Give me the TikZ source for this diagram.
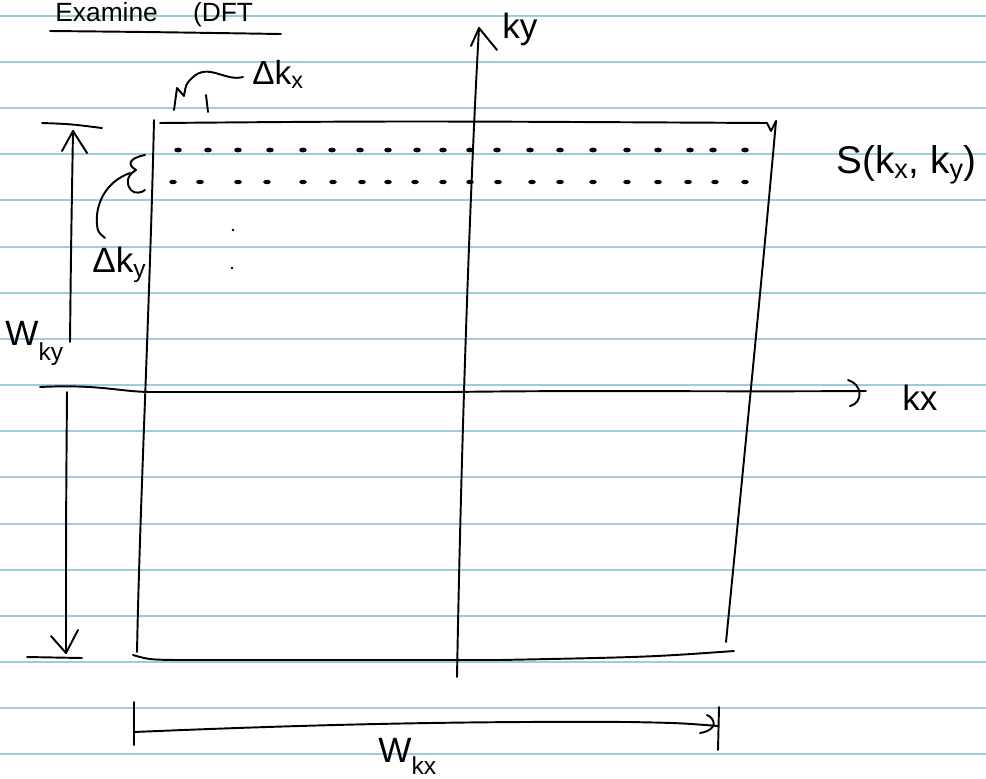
\documentclass[tikz,border=0pt]{standalone}
\usepackage{fontspec}
\setmainfont{Liberation Sans}
\definecolor{rulecol}{RGB}{158,204,220}
\begin{document}
\begin{tikzpicture}[x=0.02cm,y=-0.02cm,
  ink/.style={line width=1.1pt, line cap=round, line join=round},
  ruleline/.style={draw=rulecol, line width=1.1pt},
  lbl/.style={inner sep=0pt, anchor=base west},
  dotmark/.style={fill=black}]
\useasboundingbox (0,0) rectangle (986,778);
\clip (0,0) rectangle (986,778);
\fill[white] (0,0) rectangle (986,778);
% ruled paper
\foreach \yy in {16,62,108,154,200,247,293,339,385,431,477,524,570,616,662,708,754}
  \draw[ruleline] (0,\yy) -- (986,\yy);

% title
\node[lbl, font=\fontsize{15}{17}\selectfont] (title) at (55,21) {Examine\hspace{20pt}(DFT};
\coordinate (ulA) at (50,31); \coordinate (ulB) at (281,34);
\draw[ink] (ulA) .. controls (150,32) .. (ulB);

% Delta k_x label and squiggle
\node[lbl, font=\fontsize{19}{22}\selectfont] (dkx) at (252,84) {Δk\textsubscript{x}};
\coordinate (sqA) at (174,110); \coordinate (sqB) at (243,77);
\draw[ink] (sqA) -- (177,88) .. controls (181,92) .. (184,96) .. controls (186,84) .. (192,78)
  .. controls (208,62) and (225,82) .. (sqB);
\draw[ink] (206,95) -- (208,112);

% k_y axis
\coordinate (kyb) at (457,677); \coordinate (kyt) at (479,28);
\draw[ink] (kyb) .. controls (462,400) and (472,150) .. (kyt);
\draw[ink] (471,46) -- (kyt) -- (497,50);
\node[lbl, font=\fontsize{20}{22}\selectfont] (kylab) at (502,38) {ky};

% k_x axis
\coordinate (kxl) at (40,387); \coordinate (kxr) at (866,391);
\draw[ink] (kxl) .. controls (100,384) and (120,392) .. (152,392) -- (450,392)
  .. controls (600,390) and (700,392) .. (kxr);
\draw[ink] (848,380) .. controls (862,384) and (864,402) .. (850,406);
\node[lbl, font=\fontsize{20}{22}\selectfont] (kxlab) at (902,410) {kx};

% sampling rectangle
\coordinate (rTL) at (154,120); \coordinate (rBL) at (137,652);
\coordinate (tA) at (160,123); \coordinate (tB) at (767,123);
\coordinate (rTR) at (776,121); \coordinate (rBR) at (726,642);
\coordinate (bA) at (133,655); \coordinate (bB) at (734,651);
\draw[ink] (rTL) .. controls (150,300) and (140,500) .. (rBL);
\draw[ink] (tA) .. controls (400,121) .. (tB) -- (771,131) -- (rTR);
\draw[ink] (rTR) .. controls (760,300) and (740,500) .. (rBR);
\draw[ink] (bA) .. controls (150,660) .. (200,660) -- (500,660) .. controls (650,657) .. (bB);

% samples
\foreach \x in {178,208,238,270,303,332,360,388,417,443,470,497,530,560,593,627,658,690,713,745}
  \fill[dotmark] (\x,150) ellipse (3.8 and 2.4);
\foreach \x in {173,200,238,267,303,333,362,388,415,443,470,498,532,560,593,627,658,688,715,745}
  \fill[dotmark] (\x,182) ellipse (3.8 and 2.2);
\fill[dotmark] (233,230) circle (1.3);
\fill[dotmark] (232,268) circle (1.3);

% S(kx,ky) label
\node[lbl, font=\fontsize{22}{24}\selectfont] (slab) at (836,173) {S(k\textsubscript{x}, k\textsubscript{y})};

% brace and Delta k_y
\coordinate (brA) at (145,155); \coordinate (brB) at (145,190);
\draw[ink] (brA) .. controls (130,158) and (126,164) .. (136,170)
  .. controls (126,176) and (126,184) .. (131,190) .. controls (134,194) and (142,193) .. (brB);
\coordinate (caS) at (130,173); \coordinate (caE) at (105,238);
\draw[ink] (caS) .. controls (105,182) and (95,205) .. (97,225) .. controls (98,232) .. (caE);
\node[lbl, font=\fontsize{20}{22}\selectfont] (dky) at (92,272) {Δk\textsubscript{y}};

% W_ky dimension
\coordinate (wyT) at (73,131); \coordinate (wyM1) at (70,342);
\coordinate (wyM2) at (67,392); \coordinate (wyB) at (66,653);
\draw[ink] (42,123) .. controls (70,124) .. (102,128);
\draw[ink] (wyT) .. controls (71,250) .. (wyM1);
\draw[ink] (62,151) -- (wyT) -- (87,153);
\draw[ink] (wyM2) .. controls (66,520) .. (wyB);
\draw[ink] (51,636) -- (wyB) -- (78,630);
\draw[ink] (27,657) -- (82,658);
\node[lbl, font=\fontsize{20}{22}\selectfont] (wky) at (5,345) {W\raisebox{-9pt}{\fontsize{14}{16}\selectfont ky}};

% W_kx dimension
\coordinate (wxL) at (134,732); \coordinate (wxR) at (718,726);
\draw[ink] (134,702) -- (134,745);
\draw[ink] (wxL) .. controls (300,725) and (450,721) .. (630,722) .. controls (680,723) .. (wxR);
\draw[ink] (707,715) .. controls (716,719) and (718,730) .. (700,733);
\draw[ink] (719,707) -- (718,750);
\node[lbl, font=\fontsize{20}{22}\selectfont] (wkx) at (378,762) {W\raisebox{-7pt}{\fontsize{14}{16}\selectfont kx}};
\end{tikzpicture}
\end{document}
